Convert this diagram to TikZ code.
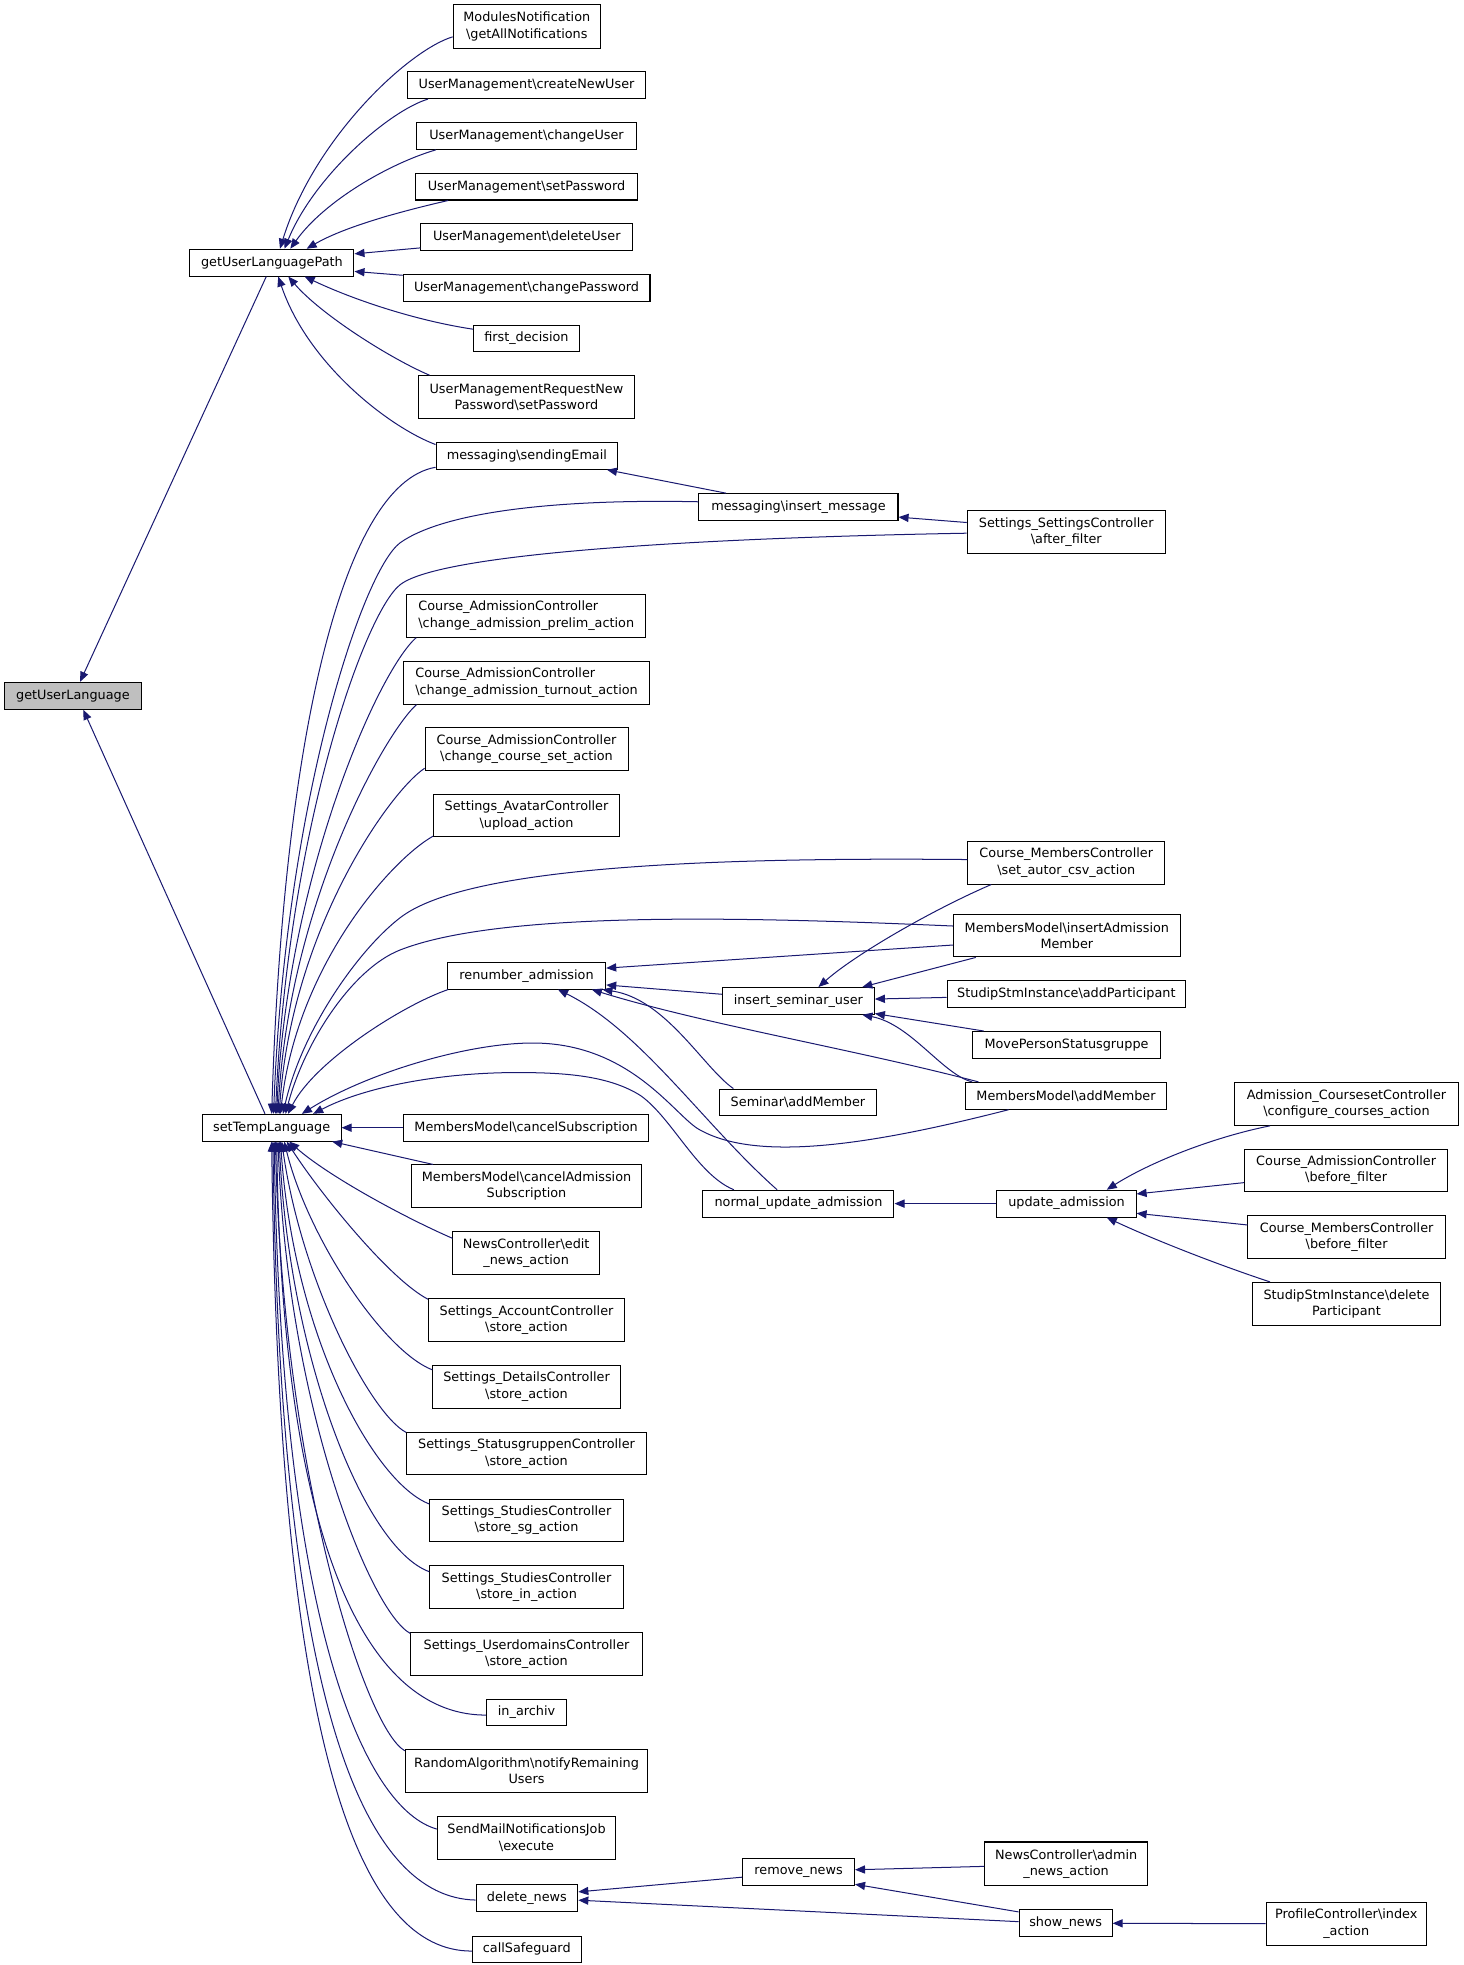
\documentclass[tikz,border=0pt]{standalone}
\usepackage{fontspec}
\setmainfont{DejaVu Sans}
\usetikzlibrary{arrows.meta,calc}
\definecolor{edgeblue}{RGB}{25,25,112}
\definecolor{focusgray}{RGB}{191,191,191}
\newcommand\bsl{\textbackslash}
\newcommand\dxfont{\fontsize{10.2}{13}\selectfont}
\newcommand\dnode[6]{\node[box,minimum width=#4pt,minimum height=#5pt] (#1) at (#2,#3) {#6};}
\tikzset{
  box/.style={draw=black, line width=0.8pt, fill=white, inner sep=0pt, align=center, font=\dxfont},
  e/.style={draw=edgeblue, line width=0.8pt, -{Triangle[length=8pt,width=6.5pt]}},
}
\begin{document}
\begin{tikzpicture}[x=1pt,y=-1pt]
\useasboundingbox (0,0) rectangle (1165,1563.7);
% nodes
\node[box,fill=focusgray,minimum width=109.3pt,minimum height=21.4pt] (gul) at (58,553.7) {getUserLanguage};
\dnode{gulp}{216.4}{209}{130.5}{21.3}{getUserLanguagePath}
\dnode{stl}{216.2}{897.4}{110.4}{21.3}{setTempLanguage}
\dnode{mn}{419.2}{21}{117.2}{34.7}{ModulesNotification\\\bsl getAllNotifications}
\dnode{cnu}{419}{67.8}{190}{21.3}{UserManagement\bsl createNewUser}
\dnode{cu}{419}{108.2}{174.5}{21.3}{UserManagement\bsl changeUser}
\dnode{sp}{419}{148.5}{176}{21.3}{UserManagement\bsl setPassword}
\dnode{du}{419.2}{188.7}{168.4}{21.3}{UserManagement\bsl deleteUser}
\dnode{cp}{419}{229.1}{196.5}{21.3}{UserManagement\bsl changePassword}
\dnode{fd}{418.9}{269.3}{84.3}{21.3}{first\_decision}
\dnode{umr}{418.9}{316}{171.3}{34}{UserManagementRequestNew\\Password\bsl setPassword}
\dnode{se}{419.3}{362.8}{144.6}{21.3}{messaging\bsl sendingEmail}
\dnode{im}{635.4}{403.5}{158.4}{21.3}{messaging\bsl insert\_message}
\dnode{ssc}{848.5}{423.3}{157.6}{33.8}{Settings\_SettingsController\\\bsl after\_filter}
\node[box,align=left,minimum width=190.4pt,minimum height=34pt] (cap) at (418.8,490) {Course\_AdmissionController\\\bsl change\_admission\_prelim\_action};
\node[box,align=left,minimum width=195.8pt,minimum height=34pt] (cat) at (419,543.3) {Course\_AdmissionController\\\bsl change\_admission\_turnout\_action};
\dnode{ccs}{419}{596}{161.5}{34}{Course\_AdmissionController\\\bsl change\_course\_set\_action}
\dnode{sav}{419}{649}{148}{34}{Settings\_AvatarController\\\bsl upload\_action}
\dnode{csv}{848.5}{686.5}{156.7}{34}{Course\_MembersController\\\bsl set\_autor\_csv\_action}
\dnode{mia}{849}{744.5}{180.2}{34}{MembersModel\bsl insertAdmission\\Member}
\dnode{ra}{419}{776.4}{126}{21.3}{renumber\_admission}
\dnode{isu}{635.3}{796.5}{121}{21.3}{insert\_seminar\_user}
\dnode{sap}{848.6}{791.2}{190}{21.3}{StudipStmInstance\bsl addParticipant}
\dnode{mps}{848.7}{831.5}{149}{21.3}{MovePersonStatusgruppe}
\dnode{sam}{635}{877.3}{125.5}{21.3}{Seminar\bsl addMember}
\dnode{mam}{848.3}{872}{160.5}{21.3}{MembersModel\bsl addMember}
\dnode{mcs}{418.7}{897.4}{194.5}{21.3}{MembersModel\bsl cancelSubscription}
\dnode{mca}{419}{944}{183.7}{34}{MembersModel\bsl cancelAdmission\\Subscription}
\dnode{nua}{635.4}{957.8}{152}{21.3}{normal\_update\_admission}
\dnode{ua}{848.7}{957.8}{110.7}{21.3}{update\_admission}
\dnode{acc}{1071.5}{878.5}{177.5}{34}{Admission\_CoursesetController\\\bsl configure\_courses\_action}
\dnode{cab}{1071.2}{931.4}{161.7}{34}{Course\_AdmissionController\\\bsl before\_filter}
\dnode{cmb}{1071.6}{984.5}{157}{34}{Course\_MembersController\\\bsl before\_filter}
\dnode{sdp}{1071.5}{1037.5}{149.6}{34}{StudipStmInstance\bsl delete\\Participant}
\dnode{nce}{418.7}{997}{116.5}{34}{NewsController\bsl edit\\\_news\_action}
\dnode{sac}{419}{1050.3}{156}{34}{Settings\_AccountController\\\bsl store\_action}
\dnode{sdc}{419}{1103.5}{149}{34}{Settings\_DetailsController\\\bsl store\_action}
\dnode{ssg}{419}{1156.7}{191}{34}{Settings\_StatusgruppenController\\\bsl store\_action}
\dnode{sss}{419}{1209.9}{154}{34}{Settings\_StudiesController\\\bsl store\_sg\_action}
\dnode{ssi}{419}{1263.1}{154}{34}{Settings\_StudiesController\\\bsl store\_in\_action}
\dnode{sud}{419}{1316.3}{184}{34}{Settings\_UserdomainsController\\\bsl store\_action}
\dnode{ina}{419}{1362.8}{64}{21.3}{in\_archiv}
\dnode{rnd}{419}{1409.3}{193}{34}{RandomAlgorithm\bsl notifyRemaining\\Users}
\dnode{smn}{419}{1462.4}{142}{34}{SendMailNotificationsJob\\\bsl execute}
\dnode{dn}{419.3}{1510.3}{81}{21.3}{delete\_news}
\dnode{rn}{635.5}{1489.7}{89}{21.3}{remove\_news}
\dnode{nca}{848.4}{1483.3}{129.6}{35}{NewsController\bsl admin\\\_news\_action}
\dnode{sn}{848}{1530.5}{74}{21.3}{show\_news}
\dnode{pci}{1071.3}{1530.8}{127.4}{34.5}{ProfileController\bsl index\\\_action}
\dnode{csg}{419.2}{1551.3}{86.3}{21.3}{callSafeguard}
% edges into getUserLanguagePath
\draw[e] ($(mn.west)+(0,8.3)$) .. controls (325,40) and (250,110) .. ($(gulp.north)+(6.4,0)$);
\draw[e] ($(cnu.south west)+(17,0)$) .. controls (310,88) and (250,140) .. ($(gulp.north)+(10,0)$);
\draw[e] ($(cu.south west)+(15.5,0)$) .. controls (310,130) and (258,160) .. ($(gulp.north)+(14.6,0)$);
\draw[e] ($(sp.south west)+(26,0)$) .. controls (320,168) and (275,180) .. ($(gulp.north)+(27.6,0)$);
\draw[e] ($(du.south west)+(0,-2.5)$) -- ($(gulp.east)+(0,-7)$);
\draw[e] ($(cp.north west)+(0,1)$) -- ($(gulp.east)+(0,7)$);
\draw[e] ($(fd.north west)+(0,3.7)$) .. controls (330,255) and (280,238) .. ($(gulp.south)+(26,0)$);
\draw[e] ($(umr.north west)+(9,0)$) .. controls (310,285) and (255,250) .. ($(gulp.south)+(13,0)$);
\draw[e] ($(se.north west)+(0,2)$) .. controls (310,340) and (245,290) .. ($(gulp.south)+(5,0)$);
% edges into getUserLanguage
\draw[e] ($(gulp.south)+(-4.5,0)$) -- ($(gul.north)+(5.7,0)$);
\draw[e] ($(stl.north)+(-5.3,0)$) -- ($(gul.south)+(8.3,0)$);
% messaging
\draw[e] ($(im.north west)+(22,0)$) -- ($(se.south east)+(-9,0)$);
\draw[e] ($(ssc.west)+(0,-7.5)$) -- ($(im.east)+(0,8)$);
% edges into setTempLanguage (from above)
\draw[e] ($(se.south west)+(0,-2)$) .. controls (270,385) and (225,600) .. (stl.north);
\draw[e] ($(im.west)+(0,-4.2)$) .. controls (450,397) and (355,406) .. (318.3,432) .. controls (288,455) and (227,640) .. ($(stl.north)+(1.5,0)$);
\draw[e] ($(ssc.west)+(0,1)$) .. controls (560,428) and (350,440) .. (318.3,465.4) .. controls (290,488) and (229,660) .. ($(stl.north)+(3,0)$);
\draw[e] ($(cap.south west)+(8,0)$) .. controls (300,535) and (228,700) .. ($(stl.north)+(4,0)$);
\draw[e] ($(cat.south west)+(10.7,0)$) .. controls (305,585) and (230,720) .. ($(stl.north)+(5,0)$);
\draw[e] ($(ccs.south west)+(0,-2)$) .. controls (310,630) and (232,740) .. ($(stl.north)+(6,0)$);
\draw[e] ($(sav.south west)+(0,-1)$) .. controls (310,685) and (236,770) .. ($(stl.north)+(7,0)$);
\draw[e] ($(csv.west)+(0,-2.5)$) .. controls (560,682) and (370,690) .. (318.3,730.4) .. controls (285,756) and (240,820) .. ($(stl.north)+(9,0)$);
\draw[e] ($(mia.west)+(0,-7.6)$) .. controls (600,730) and (400,724) .. (318.3,756) .. controls (280,771) and (242,830) .. ($(stl.north)+(11,0)$);
\draw[e] ($(ra.south west)+(1,0)$) .. controls (320,800) and (250,845) .. ($(stl.north)+(13,0)$);
\draw[e] ($(mam.south west)+(35,0)$) .. controls (690,912) and (600,925) .. (555,898) .. controls (535,885) and (500,830) .. (424,830) .. controls (370,830) and (290,855) .. ($(stl.north)+(24,0)$);
\draw[e] ($(nua.north west)+(25,0)$) .. controls (555,935) and (535,890) .. (510,872) .. controls (485,856) and (450,853.5) .. (411.6,853.5) .. controls (350,853.5) and (290,865) .. ($(stl.north)+(33,0)$);
% edges into setTempLanguage (from the right and below)
\draw[e] (mcs.west) -- (stl.east);
\draw[e] ($(mca.north west)+(17.8,0)$) -- ($(stl.south east)+(-7.5,0)$);
\draw[e] ($(nce.west)+(0,-11.6)$) .. controls (320,968) and (260,935) .. ($(stl.south)+(14,0)$);
\draw[e] ($(sac.north west)+(0,1)$) .. controls (310,1018) and (255,950) .. ($(stl.south)+(12,0)$);
\draw[e] ($(sdc.north west)+(0,4)$) .. controls (305,1075) and (245,985) .. ($(stl.south)+(10,0)$);
\draw[e] ($(ssg.north west)+(0,0.5)$) .. controls (295,1125) and (240,1020) .. ($(stl.south)+(8,0)$);
\draw[e] ($(sss.north west)+(0,4.3)$) .. controls (298,1180) and (234,1065) .. ($(stl.south)+(7,0)$);
\draw[e] ($(ssi.north west)+(0,5)$) .. controls (290,1232) and (230,1080) .. ($(stl.south)+(6,0)$);
\draw[e] ($(sud.north west)+(0,1)$) .. controls (295,1283) and (229,1120) .. ($(stl.south)+(5,0)$);
\draw[e] ($(ina.west)+(0,2)$) .. controls (300,1365) and (225,1250) .. ($(stl.south)+(4,0)$);
\draw[e] ($(rnd.north west)+(0,1.3)$) .. controls (290,1375) and (225,1170) .. ($(stl.south)+(3,0)$);
\draw[e] ($(smn.north west)+(0,10.5)$) .. controls (292,1440) and (224,1300) .. ($(stl.south)+(2,0)$);
\draw[e] ($(dn.west)+(0,1.7)$) .. controls (292,1510) and (223,1365) .. ($(stl.south)+(1,0)$);
\draw[e] ($(csg.west)+(0,1.3)$) .. controls (288,1553) and (222,1400) .. (stl.south);
% edges into renumber_admission
\draw[e] ($(mia.west)+(0,7.5)$) -- ($(ra.east)+(0,-6)$);
\draw[e] ($(isu.west)+(0,-5.3)$) -- ($(ra.east)+(0,7.4)$);
\draw[e] ($(sam.north west)+(11.8,0)$) .. controls (560,850) and (530,795) .. ($(ra.south east)+(-3,0)$);
\draw[e] ($(mam.north west)+(11,0)$) .. controls (680,835) and (560,815) .. ($(ra.south east)+(-11.5,0)$);
\draw[e] ($(nua.north west)+(59.4,0)$) .. controls (560,895) and (510,820) .. ($(ra.south)+(25,0)$);
% edges into insert_seminar_user
\draw[e] ($(csv.south west)+(19,0)$) .. controls (740,725) and (680,760) .. ($(isu.north)+(16,0)$);
\draw[e] ($(mia.south west)+(18,0)$) -- ($(isu.north east)+(-10,0)$);
\draw[e] ($(sap.west)+(0,2.5)$) -- ($(isu.east)+(0,-1.5)$);
\draw[e] ($(mps.north west)+(9,0)$) -- ($(isu.south east)+(0,-1)$);
\draw[e] ($(mam.north west)+(6,0)$) .. controls (750,855) and (725,815) .. ($(isu.south east)+(-10,0)$);
% update_admission
\draw[e] (ua.west) -- (nua.east);
\draw[e] ($(acc.south west)+(28.3,0)$) .. controls (965,905) and (915,925) .. ($(ua.north)+(32,0)$);
\draw[e] ($(cab.west)+(0,9.7)$) -- ($(ua.east)+(0,-7.7)$);
\draw[e] ($(cmb.west)+(0,-9.7)$) -- ($(ua.east)+(0,7.7)$);
\draw[e] ($(sdp.north west)+(14.3,0)$) .. controls (965,1005) and (915,985) .. ($(ua.south)+(32,0)$);
% news
\draw[e] ($(nca.west)+(0,1.9)$) -- ($(rn.east)+(0,-1.8)$);
\draw[e] ($(sn.north west)+(0,2)$) -- ($(rn.south east)+(0,-1.3)$);
\draw[e] ($(rn.west)+(0,4.1)$) -- ($(dn.east)+(0,-4.8)$);
\draw[e] ($(sn.west)+(0,-1.3)$) -- ($(dn.east)+(0,1.8)$);
\draw[e] (pci.west) -- (sn.east);
\end{tikzpicture}
\end{document}
